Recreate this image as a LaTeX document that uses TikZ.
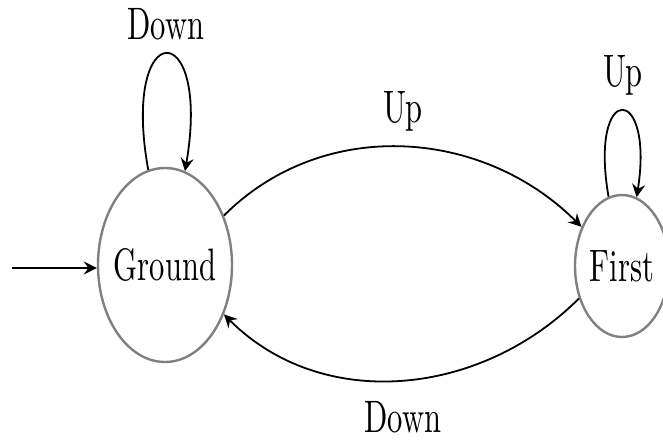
\documentclass[tikz,border=0pt]{standalone}
\usetikzlibrary{shapes.geometric,arrows.meta}
\newcommand\lblfont{\fontsize{10}{12}\selectfont}
\newcommand\st[1]{\scalebox{3.05}[4.55]{#1}}
\newcommand\ctr[1]{\makebox[0pt]{#1}}
\tikzset{
  stnode/.style={ellipse, draw={rgb,255:red,128;green,128;blue,128}, line width=2.4pt, inner sep=0pt, font=\lblfont},
  conn/.style={line width=1.8pt, -{Stealth[length=13pt,width=13pt,inset=4.5pt]}},
  lbl/.style={font=\lblfont, anchor=base, inner sep=0pt},
}
\begin{document}
\begin{tikzpicture}[x=1pt,y=1pt]
\useasboundingbox (0,0) rectangle (663,440);
\node[stnode, minimum width=134pt, minimum height=194pt] (g) at (165,175) {\ctr{\st{Ground}}};
\node[stnode, minimum width=94pt, minimum height=142pt] (f) at (622,174) {\ctr{\st{First}}};
\coordinate (init) at (12,172);
\draw[conn] (init) -- (init -| g.west);
\draw[conn] (g.40) to[out=45,in=135] (f.136);
\draw[conn] (f.217) to[out=-135,in=-45] (g.-40);
\draw[conn] (g.100) .. controls +(-28,155) and +(27,156) .. (g.78);
\draw[conn] (f.101) .. controls +(-20,116) and +(18,114) .. (f.78);
\node[lbl] (l1) at (166,400) {\st{Down}};
\node[lbl] (l2) at (623,353) {\st{Up}};
\node[lbl] (l3) at (403,317) {\st{Up}};
\node[lbl] (l4) at (403,8) {\st{Down}};
\end{tikzpicture}
\end{document}
